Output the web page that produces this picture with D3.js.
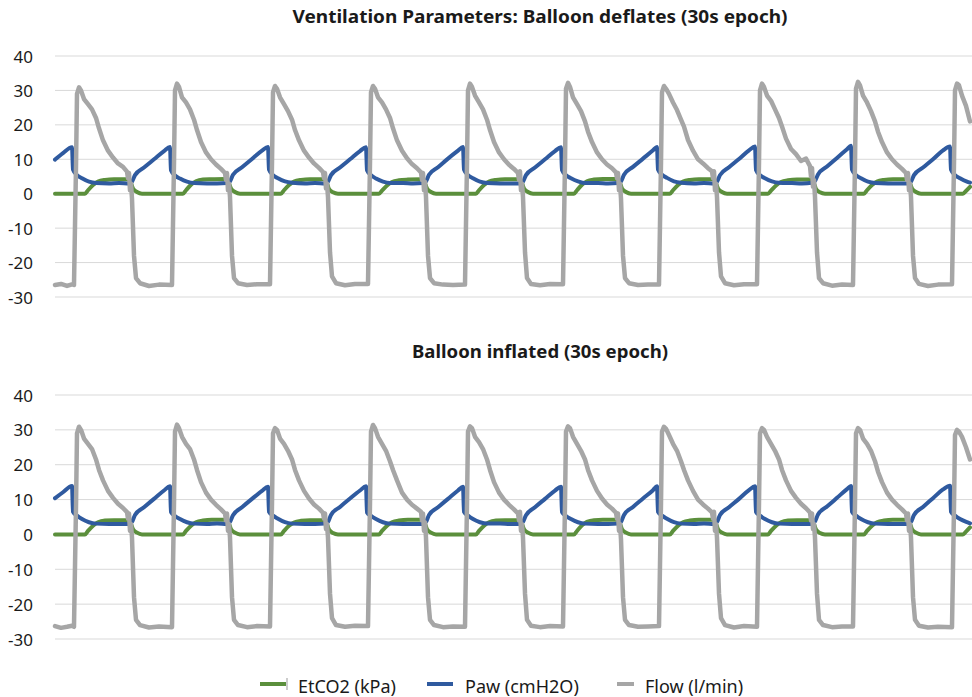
<!DOCTYPE html>
<html>
<head>
<meta charset="utf-8">
<script src="https://cdn.jsdelivr.net/npm/d3@7"></script>
<style>
  body { margin: 0; background: #fff; }
  text { font-family: "Noto Sans", sans-serif; fill: #1a1a1a; }
</style>
</head>
<body>
<div id="chart"></div>
<script>
// Sample index (30s epoch, ~30.5 samples/s)
const flowT = [0, 6, 12, 17,
  19, 21, 22, 24, 26, 29, 33, 37, 41, 44, 48, 53, 58, 63, 68, 72, 73, 74, 75, 76, 77, 79, 81, 85, 94, 104,
  117, 119, 120, 122, 124, 127, 131, 135, 139, 142, 146, 151, 156, 161, 166, 170, 171, 172, 173, 174, 175, 177, 179, 183, 192, 202,
  215, 217, 218, 220, 222, 225, 229, 233, 237, 240, 244, 249, 254, 259, 264, 268, 269, 270, 271, 272, 273, 275, 277, 281, 290, 300,
  313, 315, 316, 318, 320, 323, 327, 331, 335, 338, 342, 347, 352, 357, 362, 366, 367, 368, 369, 370, 371, 373, 375, 379, 388, 398,
  410, 412, 413, 415, 417, 420, 424, 428, 432, 435, 439, 444, 449, 454, 459, 463, 464, 465, 466, 467, 468, 470, 472, 476, 485, 495,
  508, 510, 511, 513, 515, 518, 522, 526, 530, 533, 537, 542, 547, 552, 557, 561, 562, 563, 564, 565, 566, 568, 570, 574, 583, 593,
  604, 606, 607, 609, 611, 614, 618, 622, 626, 629, 633, 638, 643, 648, 653, 657, 658, 659, 660, 661, 662, 664, 666, 670, 679, 689,
  702, 704, 705, 707, 709, 712, 716, 720, 724, 727, 731, 736, 741, 746, 751, 755, 756, 757, 758, 759, 760, 762, 764, 768, 777, 787,
  798, 800, 801, 803, 805, 808, 812, 816, 820, 823, 827, 832, 837, 842, 847, 851, 852, 853, 854, 855, 856, 858, 860, 864, 873, 883,
  897, 899, 900, 902, 904, 907, 911, 915];

const flowDeflated = [-26.5, -26.2, -26.8, -26.3,
  -26.5, 8, 29, 30.9, 30, 27.5, 26, 24.5, 22, 19, 15.5, 12.5, 10.5, 8.8, 7.8, 6.4, 4.5, 6, 1, 3, -1.5, -18, -24.5, -26, -26.8, -26.4,
  -26.5, 9, 30, 32, 31, 28, 26.5, 24.5, 21.5, 18.5, 15, 12, 10, 8.5, 7.2, 6, 4, 6, 1, 3, -1, -18, -24.5, -26, -26.5, -26.3,
  -26.3, 9, 29.5, 31.3, 30.5, 28, 26, 24, 21.5, 18.5, 15.5, 12.5, 10.5, 8.8, 7.5, 6.3, 4.5, 6, 1.5, 3, -1, -17, -24, -26, -26.6, -26.2,
  -26.2, 9, 29.5, 31.3, 30.5, 28, 26.5, 24.5, 22, 19, 15.5, 12.5, 10.3, 8.6, 7.4, 6.2, 4, 6, 1, 3.5, -1, -18, -24.5, -26, -26.4, -26.5,
  -26.4, 9, 30, 32, 31, 28.5, 26.5, 24.5, 21.5, 18.5, 15, 12, 10, 8.4, 7.2, 6, 4, 6.5, 1, 3, -1, -17, -24.5, -26.2, -26.6, -26.2,
  -26.3, 9, 30.5, 32.2, 31, 28, 26, 24, 21, 18, 15, 12, 10, 8.5, 7.4, 6.2, 4.5, 6, 1, 3, -1.5, -18, -24.5, -26, -26.5, -26.4,
  -26.4, 9, 29.5, 31.3, 30.5, 29, 26.5, 24.3, 21.5, 19.5, 15.6, 12.5, 10, 8.8, 7.4, 6.5, 4.5, 6.5, 1, 3, -1, -17, -24, -26, -26.6, -26.3,
  -26.3, 9, 30, 32, 31, 28.5, 27, 24.5, 22, 19.5, 16, 13, 11.5, 9.5, 10.2, 8, 5, 7.5, 2, 4, -1, -17, -24.5, -26, -26.7, -26.4,
  -26.5, 9, 30.5, 32.5, 31.5, 28.5, 26.5, 24, 21, 18, 15, 12, 10, 8.5, 7.2, 6, 4, 6, 1, 3, -1, -18, -24.5, -26.2, -26.8, -26.4,
  -26.3, 9, 30, 32, 31.5, 28.5, 25.5, 21];

const flowInflated = [-26.3, -26.8, -26.5, -26.2,
  -26.5, 8, 29, 30.9, 30, 27.5, 26, 24.5, 21.5, 18.5, 15.5, 12.5, 10.5, 8.8, 7.6, 6.4, 4.5, 6, 1, 3, -1, -18, -24.5, -26, -26.7, -26.4,
  -26.6, 9, 29.5, 31.5, 30.5, 28, 26, 24.5, 21.5, 18.5, 15, 12, 10, 8.5, 7.2, 6, 4, 6, 1, 3, -1, -18, -24.5, -26, -26.6, -26.3,
  -26.4, 9, 29, 30.5, 30, 27.5, 26, 24, 21.5, 18.5, 15.5, 12.5, 10.3, 8.6, 7.4, 6.2, 4.5, 6, 1.5, 3, -1, -17, -24, -26, -26.5, -26.2,
  -26.3, 9, 29.5, 31.4, 30.5, 28, 26, 24, 21, 18.5, 15.5, 12, 10, 8.5, 7.4, 6.5, 4, 6, 1, 3.5, -1, -18, -24.5, -26, -26.6, -26.4,
  -26.5, 9, 29.5, 31, 30.5, 28, 26.5, 24.5, 21.5, 18.5, 15, 12, 10, 8.5, 7.2, 6, 4, 6.5, 1, 3, -1, -17, -24.5, -26.2, -26.6, -26.3,
  -26.4, 9, 29.5, 31, 30.5, 28, 26, 24, 21.5, 18.5, 15.5, 12.5, 10.3, 8.6, 7.4, 6.2, 4.5, 6, 1, 3, -1.5, -18, -24.5, -26, -26.5, -26.4,
  -26.3, 9, 29.5, 30.9, 30.3, 28.5, 26, 24, 21, 18.5, 15.5, 12.5, 10, 8.6, 7.4, 6.3, 4.5, 6.5, 1, 3, -1, -17, -24, -26, -26.7, -26.3,
  -26.5, 9, 29, 30.5, 30, 28, 26, 24, 21.5, 18.5, 15.5, 12.5, 10.5, 8.8, 7.5, 6.3, 4, 6, 1.5, 3, -1, -17, -24.5, -26, -26.6, -26.4,
  -26.4, 9, 29, 30.5, 30, 27.5, 26, 24, 21, 18, 15, 12, 10, 8.5, 7.2, 6, 4, 6, 1, 3, -1, -18, -24.5, -26.2, -26.7, -26.5,
  -26.6, 8, 28.5, 30, 29.5, 28, 25, 21.5];

const pawT = [0, 8, 17,
  18, 22, 27, 34, 41, 54, 64, 74, 77, 80, 89, 99, 109, 115,
  116, 120, 125, 132, 139, 152, 162, 172, 175, 178, 187, 197, 207, 213,
  214, 218, 223, 230, 237, 250, 260, 270, 273, 276, 285, 295, 305, 311,
  312, 316, 321, 328, 335, 348, 358, 368, 371, 374, 383, 393, 403, 408,
  409, 413, 418, 425, 432, 445, 455, 465, 468, 471, 480, 490, 500, 506,
  507, 511, 516, 523, 530, 543, 553, 563, 566, 569, 578, 588, 598, 602,
  603, 607, 612, 619, 626, 639, 649, 659, 662, 665, 674, 684, 694, 700,
  701, 705, 710, 717, 724, 737, 747, 757, 760, 763, 772, 782, 792, 796,
  797, 801, 806, 813, 820, 833, 843, 853, 856, 859, 868, 878, 888, 895,
  896, 900, 905, 912, 915];

const pawDeflated = [9.9, 11.8, 13.5,
  7, 5.4, 4.5, 3.5, 3.1, 3.0, 3.1, 3.0, 3.5, 5.4, 7.6, 10.0, 12.4, 13.6,
  6.8, 5.3, 4.4, 3.5, 3.1, 3.0, 3.0, 3.1, 3.6, 5.5, 7.7, 10.1, 12.5, 13.6,
  7, 5.4, 4.5, 3.6, 3.2, 3.0, 3.1, 3.0, 3.5, 5.4, 7.6, 10.0, 12.4, 13.5,
  6.8, 5.4, 4.4, 3.5, 3.1, 3.1, 3.0, 3.1, 3.6, 5.5, 7.7, 10.2, 12.5, 13.6,
  7, 5.4, 4.5, 3.5, 3.1, 3.0, 3.0, 3.0, 3.5, 5.4, 7.6, 10.0, 12.4, 13.5,
  6.9, 5.4, 4.5, 3.6, 3.1, 3.1, 3.0, 3.1, 3.6, 5.5, 7.8, 10.2, 12.6, 13.6,
  7, 5.5, 4.6, 3.6, 3.2, 3.0, 3.1, 3.0, 3.5, 5.4, 7.7, 10.1, 12.6, 13.7,
  6.9, 5.4, 4.5, 3.6, 3.2, 3.1, 3.0, 3.2, 3.7, 5.6, 7.9, 10.4, 12.9, 13.9,
  7, 5.4, 4.5, 3.5, 3.1, 3.0, 3.0, 3.0, 3.5, 5.4, 7.6, 10.0, 12.6, 13.7,
  7, 5.4, 4.5, 3.5, 3.2];

const pawInflated = [10.4, 12.1, 13.9,
  6.5, 5.4, 4.4, 3.5, 3.1, 3.0, 3.0, 3.0, 3.6, 5.6, 7.8, 10.2, 12.6, 13.8,
  6.4, 5.3, 4.4, 3.5, 3.1, 3.0, 3.1, 3.0, 3.6, 5.5, 7.8, 10.2, 12.5, 13.7,
  6.5, 5.4, 4.5, 3.5, 3.1, 3.0, 3.0, 3.1, 3.6, 5.6, 7.9, 10.3, 12.6, 13.8,
  6.3, 5.3, 4.4, 3.5, 3.1, 3.0, 3.0, 3.0, 3.6, 5.6, 7.8, 10.2, 12.6, 13.7,
  6.5, 5.4, 4.4, 3.5, 3.1, 3.1, 3.0, 3.0, 3.6, 5.5, 7.8, 10.2, 12.6, 13.7,
  6.4, 5.3, 4.4, 3.5, 3.1, 3.0, 3.0, 3.1, 3.6, 5.6, 7.9, 10.3, 12.7, 13.8,
  6.5, 5.4, 4.5, 3.5, 3.1, 3.0, 3.1, 3.0, 3.6, 5.6, 7.8, 10.2, 12.7, 13.8,
  6.4, 5.4, 4.4, 3.5, 3.1, 3.0, 3.0, 3.0, 3.7, 5.7, 8.0, 10.5, 13.0, 13.9,
  6.5, 5.4, 4.4, 3.5, 3.1, 3.0, 3.0, 3.0, 3.6, 5.6, 7.9, 10.4, 12.9, 14.0,
  6.5, 5.4, 4.4, 3.5, 3.2];

const etco2T = [0,
  30, 33, 38, 43, 50, 59, 72, 75, 78, 82, 87,
  128, 131, 136, 141, 148, 157, 170, 173, 176, 180, 185,
  226, 229, 234, 239, 246, 255, 268, 271, 274, 278, 283,
  324, 327, 332, 337, 344, 353, 366, 369, 372, 376, 381,
  421, 424, 429, 434, 441, 450, 463, 466, 469, 473, 478,
  519, 522, 527, 532, 539, 548, 561, 564, 567, 571, 576,
  615, 618, 623, 628, 635, 644, 657, 660, 663, 667, 672,
  713, 716, 721, 726, 733, 742, 755, 758, 761, 765, 770,
  809, 812, 817, 822, 829, 838, 851, 854, 857, 861, 866,
  908, 911, 915];

const etco2Deflated = [0,
  0, 1, 2.5, 3.5, 4, 4.2, 4.2, 3.8, 1.5, 0.5, 0,
  0, 1, 2.6, 3.6, 4.1, 4.2, 4.3, 3.8, 1.5, 0.5, 0,
  0, 1, 2.5, 3.5, 4, 4.2, 4.2, 3.8, 1.4, 0.4, 0,
  0, 0.9, 2.4, 3.4, 3.9, 4.1, 4.2, 3.7, 1.5, 0.5, 0,
  0, 1, 2.5, 3.5, 4, 4.2, 4.2, 3.8, 1.5, 0.5, 0,
  0, 1, 2.6, 3.6, 4.1, 4.3, 4.3, 3.9, 1.5, 0.5, 0,
  0, 1, 2.5, 3.5, 4, 4.2, 4.2, 3.8, 1.5, 0.5, 0,
  0, 0.9, 2.4, 3.4, 3.9, 4.1, 4.1, 3.7, 1.4, 0.4, 0,
  0, 1, 2.5, 3.5, 4, 4.2, 4.2, 3.8, 1.5, 0.5, 0,
  0, 0.8, 2];

const etco2Inflated = [0,
  0, 1, 2.5, 3.5, 4, 4.1, 4.1, 3.7, 1.5, 0.5, 0,
  0, 1, 2.5, 3.5, 4, 4.2, 4.2, 3.8, 1.5, 0.5, 0,
  0, 1, 2.5, 3.4, 3.9, 4.1, 4.1, 3.7, 1.4, 0.4, 0,
  0, 1, 2.5, 3.5, 4, 4.2, 4.2, 3.8, 1.5, 0.5, 0,
  0, 1, 2.5, 3.5, 4, 4.1, 4.1, 3.7, 1.5, 0.5, 0,
  0, 1, 2.6, 3.6, 4.1, 4.2, 4.2, 3.8, 1.5, 0.5, 0,
  0, 1, 2.5, 3.5, 4, 4.2, 4.2, 3.8, 1.5, 0.5, 0,
  0, 1, 2.5, 3.5, 4, 4.1, 4.1, 3.7, 1.4, 0.4, 0,
  0, 1, 2.5, 3.5, 4, 4.2, 4.2, 3.8, 1.5, 0.5, 0,
  0, 0.8, 2];

const yTicks = [-30, -20, -10, 0, 10, 20, 30, 40];
const seriesNames = ["EtCO2 (kPa)", "Paw (cmH2O)", "Flow (l/min)"];
const colors = ["#5b8f3c", "#2f5a9f", "#a6a6a6"];

const width = 972;
const height = 697;

const svg = d3
  .select("#chart")
  .append("svg")
  .attr("width", width)
  .attr("height", height);

const x = d3.scaleLinear().domain([0, 915]).range([55, 970]);

function drawPanel(top, bottom, title, titleY, titleLen, series) {
  const y = d3.scaleLinear().domain([-30, 40]).range([bottom, top]);
  const g = svg.append("g");

  // gridlines
  g.selectAll(".grid")
    .data(yTicks)
    .enter()
    .append("line")
    .attr("x1", 55)
    .attr("x2", 972)
    .attr("y1", (d) => y(d))
    .attr("y2", (d) => y(d))
    .attr("stroke", "#d9d9d9")
    .attr("stroke-width", 1);

  // tick labels
  g.selectAll(".tick")
    .data(yTicks)
    .enter()
    .append("text")
    .attr("x", 33)
    .attr("y", (d) => y(d))
    .attr("text-anchor", "end")
    .attr("dominant-baseline", "central")
    .attr("font-size", "17px")
    .text((d) => d);

  g.append("text")
    .attr("x", 540)
    .attr("y", titleY)
    .attr("text-anchor", "middle")
    .attr("font-size", "18px")
    .attr("font-weight", "bold")
    .attr("textLength", titleLen)
    .attr("lengthAdjust", "spacingAndGlyphs")
    .text(title);

  series.forEach((s, i) => {
    const pts = s.t.map((t, j) => [t, s.v[j]]);
    const line = d3
      .line()
      .x((d) => x(d[0]))
      .y((d) => y(d[1]))
      .curve(i === 2 ? d3.curveLinear : d3.curveMonotoneX);
    g.append("path")
      .datum(pts)
      .attr("fill", "none")
      .attr("stroke", colors[i])
      .attr("stroke-width", i === 2 ? 4.5 : 4)
      .attr("stroke-linejoin", "round")
      .attr("stroke-linecap", "round")
      .attr("d", line);
  });
}

drawPanel(56, 297, "Ventilation Parameters: Balloon deflates (30s epoch)", 23, 495, [
  { t: etco2T, v: etco2Deflated },
  { t: pawT, v: pawDeflated },
  { t: flowT, v: flowDeflated },
]);

drawPanel(395, 639, "Balloon inflated (30s epoch)", 358, 256, [
  { t: etco2T, v: etco2Inflated },
  { t: pawT, v: pawInflated },
  { t: flowT, v: flowInflated },
]);

// legend
const legendX = [260, 427, 617];
const legend = svg
  .selectAll(".legend")
  .data(seriesNames)
  .enter()
  .append("g")
  .attr("transform", (d, i) => `translate(${legendX[i]},684)`);

legend
  .append("line")
  .attr("x1", 0)
  .attr("x2", (d, i) => (i === 2 ? 17 : 26))
  .attr("stroke", (d, i) => colors[i])
  .attr("stroke-width", 4);

legend
  .append("text")
  .attr("x", (d, i) => (i === 2 ? 28 : 38))
  .attr("y", 2)
  .attr("dominant-baseline", "central")
  .attr("font-size", "18px")
  .text((d) => d);

// small end tick on first legend key
svg.append("line")
  .attr("x1", 287).attr("x2", 287)
  .attr("y1", 678).attr("y2", 690)
  .attr("stroke", "#999").attr("stroke-width", 1);
</script>
</body>
</html>
